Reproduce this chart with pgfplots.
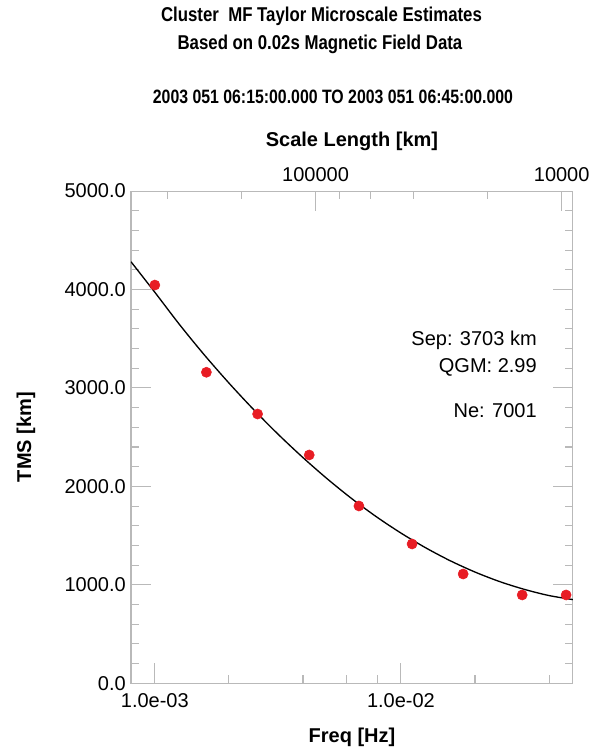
\documentclass[border=0pt]{standalone}
\usepackage{fontspec}
\setmainfont{Liberation Sans}
\usepackage{graphicx}
\usepackage{pgfplots}
\pgfplotsset{compat=1.18}

\definecolor{axisgray}{RGB}{185,185,185}
\definecolor{dotred}{RGB}{232,28,36}
\newcommand{\lblfont}{\fontsize{15}{18}\selectfont}
\newcommand{\titlefont}{\bfseries\fontsize{15}{18}\selectfont}

\begin{document}
\begin{tikzpicture}
\useasboundingbox (-98.25pt,-49.3pt) rectangle (345pt,512.5pt);

% frequency axis with the microscale estimates
\begin{axis}[
  scale only axis, width=331.5pt, height=369.2pt,
  at={(0pt,0pt)}, anchor=south west,
  xmode=log, xmin=8e-4, xmax=0.05, ymin=0, ymax=5000,
  tick align=inside, major tick length=15pt, minor tick length=6pt,
  axis line style={axisgray, line width=0.8pt},
  tick style={axisgray, line width=0.8pt},
  tick label style={font=\lblfont, inner sep=0pt, black},
  label style={font=\bfseries\lblfont, inner sep=0pt},
  xtick pos=bottom, ytick pos=both,
  xtick={1e-3,1e-2}, xticklabels={1.0e-03,1.0e-02},
  minor xtick={2e-3,4e-3,6e-3,8e-3,2e-2,4e-2},
  ytick={0,1000,2000,3000,4000,5000},
  yticklabels={0.0,1000.0,2000.0,3000.0,4000.0,5000.0},
  minor y tick num=4,
  xticklabel style={anchor=north, yshift=-7.5pt},
  yticklabel style={anchor=east, xshift=-3.75pt},
  xlabel={Freq [Hz]}, ylabel={TMS [km]},
  x label style={at={(axis description cs:0.5,-0.1207)}, anchor=base},
  y label style={at={(axis description cs:-0.226,0.5)}, anchor=base},
]
% fitted curve
\addplot[black, line width=1pt, smooth] coordinates {
  (8.0e-4,4282) (1.0e-3,3972) (1.2589e-3,3645) (1.5849e-3,3339)
  (1.9953e-3,3053) (2.5119e-3,2784) (3.1623e-3,2532) (3.9811e-3,2297)
  (5.0119e-3,2078) (6.3096e-3,1876) (7.9433e-3,1692) (1.0e-2,1526)
  (1.2589e-2,1377) (1.5849e-2,1245) (1.9953e-2,1131) (2.5119e-2,1034)
  (3.1623e-2,955) (3.9811e-2,892) (5.0e-2,850)
};
% estimates
\addplot[only marks, mark=*, mark size=3.8pt, color=dotred] coordinates {
  (1.0e-3,4045) (1.62e-3,3159) (2.616e-3,2735) (4.24e-3,2319)
  (6.75e-3,1801) (1.11e-2,1415) (1.79e-2,1110) (3.11e-2,897) (4.69e-2,897)
};
\node[anchor=base east, font=\lblfont, inner sep=0pt] at (rel axis cs:0.9186,0.6872) {Sep: 3703 km};
\node[anchor=base east, font=\lblfont, inner sep=0pt] at (rel axis cs:0.9186,0.6309) {QGM: 2.99};
\node[anchor=base east, font=\lblfont, inner sep=0pt] at (rel axis cs:0.9186,0.5403) {Ne: 7001};
\end{axis}

% scale length axis (L = V/f, V = 450 km/s)
\begin{axis}[
  scale only axis, width=331.5pt, height=369.2pt,
  at={(0pt,0pt)}, anchor=south west,
  xmode=log, xmin=8e-4, xmax=0.05, ymin=0, ymax=5000,
  tick align=inside, major tick length=15pt, minor tick length=6pt,
  axis line style={axisgray, line width=0.8pt},
  tick style={axisgray, line width=0.8pt},
  tick label style={font=\lblfont, inner sep=0pt, black},
  label style={font=\bfseries\lblfont, inner sep=0pt},
  axis x line*=top, axis y line=none,
  xtick={4.5e-3,4.5e-2}, xticklabels={100000,10000},
  minor xtick={1.125e-3,2.25e-3,5.625e-3,7.5e-3,1.125e-2,2.25e-2},
  xticklabel style={anchor=base, yshift=7.2pt},
  xlabel={Scale Length [km]},
  x label style={at={(axis description cs:0.5,1.09)}, anchor=base},
]
\end{axis}

% title block
\node[anchor=base, font=\titlefont, inner sep=0pt]
  at (142.9pt,496.2pt) {\scalebox{0.84}[1]{Cluster\ \ MF Taylor Microscale Estimates}};
\node[anchor=base, font=\titlefont, inner sep=0pt]
  at (141.75pt,475pt) {\scalebox{0.84}[1]{Based on 0.02s Magnetic Field Data}};
\node[anchor=base, font=\bfseries\fontsize{14.5}{17}\selectfont, inner sep=0pt]
  at (151.5pt,435pt) {\scalebox{0.82}[1]{2003 051 06:15:00.000 TO 2003 051 06:45:00.000}};
\end{tikzpicture}
\end{document}
